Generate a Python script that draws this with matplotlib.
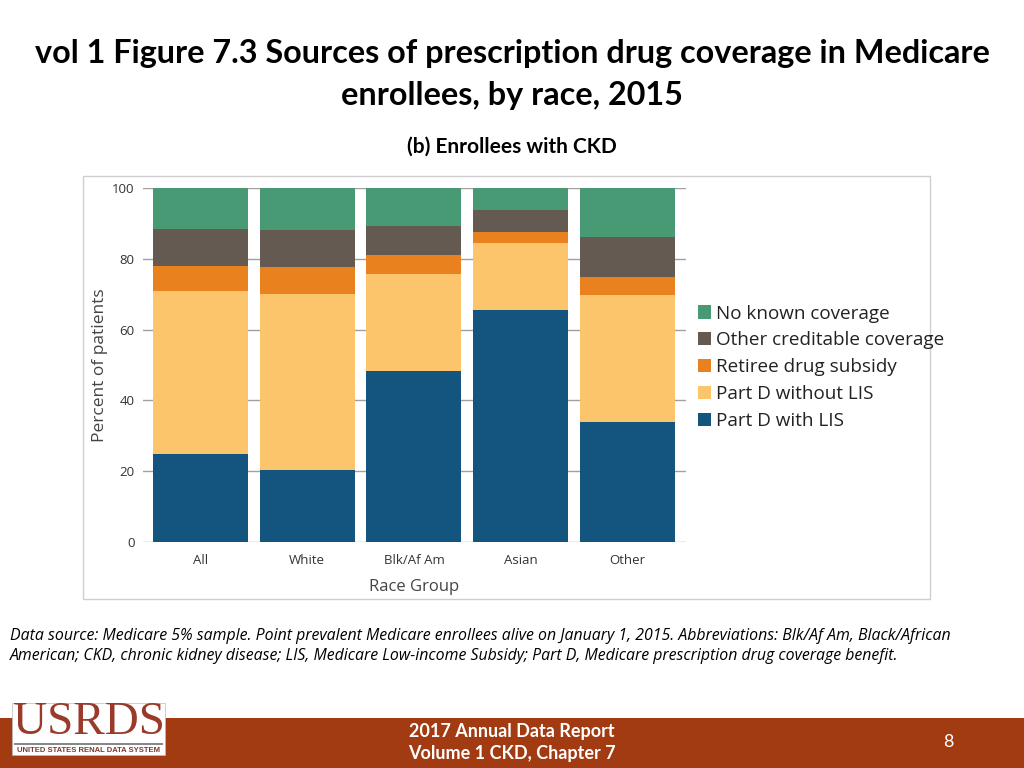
import numpy as np
import matplotlib
matplotlib.use("Agg")
import matplotlib.pyplot as plt
from matplotlib.patches import Rectangle

groups = ["All", "White", "Blk/Af Am", "Asian", "Other"]
part_d_lis = [24.9, 20.4, 48.3, 65.6, 33.9]
part_d_no_lis = [46.1, 49.7, 27.3, 19.0, 35.8]
retiree = [7.1, 7.5, 5.4, 3.1, 5.2]
other_cred = [10.2, 10.4, 8.3, 6.0, 11.3]
no_known = [11.7, 12.0, 10.7, 6.3, 13.8]

series = [
    ("Part D with LIS", part_d_lis, "#13557F"),
    ("Part D without LIS", part_d_no_lis, "#FDC56B"),
    ("Retiree drug subsidy", retiree, "#E9811F"),
    ("Other creditable coverage", other_cred, "#655A52"),
    ("No known coverage", no_known, "#479A74"),
]

W, H = 1024, 768
fig = plt.figure(figsize=(W / 100, H / 100), dpi=100)
fig.patch.set_facecolor("white")

def fx(px):
    return px / W

def fy(py):
    return 1 - py / H

# titles
fig.text(0.5, fy(53), "vol 1 Figure 7.3 Sources of prescription drug coverage in Medicare",
         ha="center", va="center", fontsize=23.3, fontweight="bold", family="Lato")
fig.text(0.5, fy(96), "enrollees, by race, 2015",
         ha="center", va="center", fontsize=23.3, fontweight="bold", family="Lato")
fig.text(0.5, fy(147), "(b) Enrollees with CKD",
         ha="center", va="center", fontsize=15, fontweight="bold", family="Lato")

# chart frame
fig.patches.append(Rectangle((fx(83), fy(599)), fx(930) - fx(83), fy(176) - fy(599),
                             transform=fig.transFigure, fill=False, edgecolor="#CFCFCF", lw=1))

ax = fig.add_axes([fx(143), fy(542), fx(686) - fx(143), fy(188) - fy(542)])
x = np.arange(len(groups))
bottom = np.zeros(len(groups))
handles = []
for label, vals, color in series:
    b = ax.bar(x, vals, width=0.89, bottom=bottom, color=color, label=label, zorder=3)
    handles.append(b)
    bottom += np.array(vals)

ax.set_xlim(-0.54, 4.55)
ax.set_ylim(0, 100)
ax.set_yticks([0, 20, 40, 60, 80, 100])
ax.grid(axis="y", color="#A0A0A0", lw=1, zorder=0)
for s in ax.spines.values():
    s.set_visible(False)
ax.tick_params(axis="y", length=0, labelsize=9.5, colors="#333333", pad=6)
ax.tick_params(axis="x", length=0, labelsize=9.5, colors="#333333", pad=9)
ax.set_xticks(x)
ax.set_xticklabels(groups, family="Open Sans")
for t in ax.get_yticklabels():
    t.set_family("Open Sans")
ax.set_ylabel("Percent of patients", fontsize=12.5, color="#444444", family="Open Sans")
ax.yaxis.set_label_coords(-0.065, 0.5)
ax.set_xlabel("Race Group", fontsize=12, color="#444444", family="Open Sans", labelpad=8)

leg = fig.legend(handles[::-1], [s[0] for s in series][::-1], loc="upper left",
                 bbox_to_anchor=(fx(690), fy(297)), frameon=False,
                 prop={"family": "Open Sans", "size": 13.6}, handlelength=0.7,
                 handleheight=0.7, handletextpad=0.25, labelspacing=0.47, borderaxespad=0)
for t in leg.get_texts():
    t.set_color("#222222")

# footnote
note = ("Data source: Medicare 5% sample. Point prevalent Medicare enrollees alive on January 1, 2015. Abbreviations: Blk/Af Am, Black/African\n"
        "American; CKD, chronic kidney disease; LIS, Medicare Low-income Subsidy; Part D, Medicare prescription drug coverage benefit.")
fig.text(fx(10), fy(646), note, ha="left", va="center", fontsize=11.4, style="italic",
         family="Open Sans", linespacing=1.35)

# footer band
fig.patches.append(Rectangle((0, 0), 1, fy(718), transform=fig.transFigure,
                             facecolor="#A33B12", edgecolor="none"))
fig.patches.append(Rectangle((fx(12), fy(755)), fx(165) - fx(12), fy(703) - fy(755),
                             transform=fig.transFigure, facecolor="white", edgecolor="#BBBBBB", lw=0.5))
fig.text(fx(88.5), fy(723), "USRDS", ha="center", va="center", fontsize=34,
         family="Liberation Serif", color="#9A3A2A")
fig.patches.append(Rectangle((fx(14), fy(745)), fx(163) - fx(14), 0.003,
                             transform=fig.transFigure, facecolor="#888888", edgecolor="none"))
fig.text(fx(88.5), fy(750), "UNITED STATES RENAL DATA SYSTEM", ha="center", va="center",
         fontsize=5.5, fontweight="bold", family="Liberation Sans", color="#7A3A30")
fig.text(0.5, fy(731), "2017 Annual Data Report", ha="center", va="center", fontsize=13,
         fontweight="bold", family="Lato", color="white")
fig.text(0.5, fy(754), "Volume 1 CKD, Chapter 7", ha="center", va="center", fontsize=13,
         fontweight="bold", family="Lato", color="white")
fig.text(fx(948), fy(742), "8", ha="center", va="center", fontsize=13,
         family="Lato", color="white")

fig.savefig("out.png", dpi=100)
